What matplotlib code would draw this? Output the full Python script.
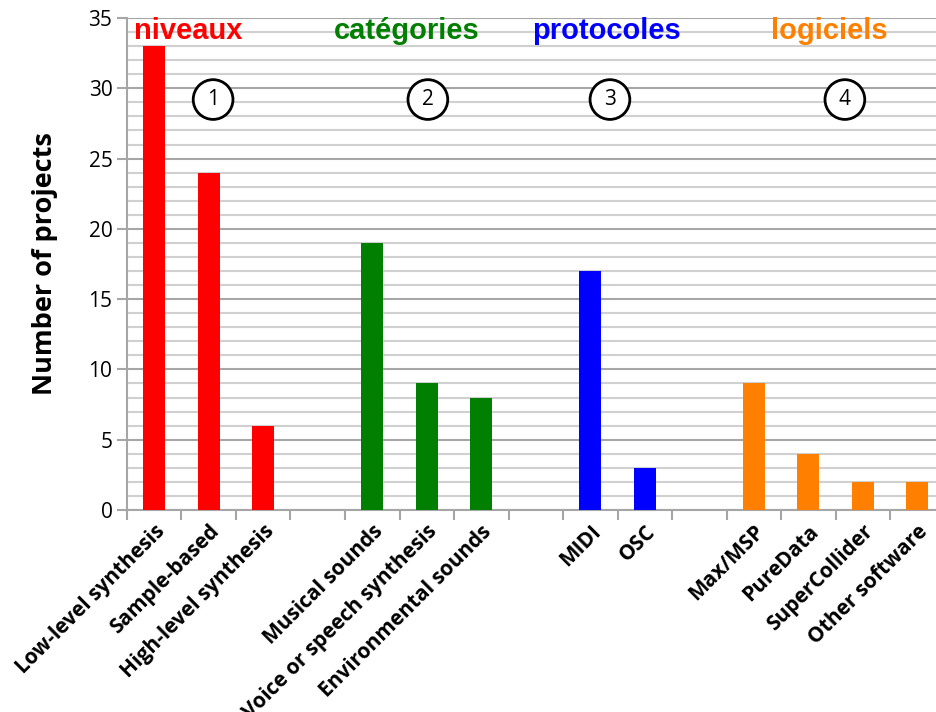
import matplotlib
matplotlib.use('Agg')
import matplotlib.pyplot as plt
import numpy as np

# data
niveaux = ['Low-level synthesis', 'Sample-based', 'High-level synthesis']
niveaux_vals = [33, 24, 6]
categories = ['Musical sounds', 'Voice or speech synthesis', 'Environmental sounds']
categories_vals = [19, 9, 8]
protocoles = ['MIDI', 'OSC']
protocoles_vals = [17, 3]
logiciels = ['Max/MSP', 'PureData', 'SuperCollider', 'Other software']
logiciels_vals = [9, 4, 2, 2]

group_titles = ['niveaux', 'catégories', 'protocoles', 'logiciels']
group_colors = ['#ff0000', '#007f00', '#0000ff', '#ff8000']
groups = [(niveaux, niveaux_vals), (categories, categories_vals),
          (protocoles, protocoles_vals), (logiciels, logiciels_vals)]

fig = plt.figure(figsize=(9.37, 7.12), dpi=100)
ax = fig.add_axes([0.1355, 0.2837, 0.8645, 0.691])

labels, positions = [], []
pos = 0
group_x = []
for (names, vals), col in zip(groups, group_colors):
    xs = np.arange(pos, pos + len(names))
    ax.bar(xs, vals, width=0.4, color=col, zorder=3)
    labels += names
    positions += list(xs)
    group_x.append(xs.mean())
    pos += len(names) + 1

# group titles and circled numbers
title_offsets = [-0.38, -0.36, -0.21, -0.12]
circle_offsets = [0.08, 0.02, -0.14, 0.17]
for i, (t, col) in enumerate(zip(group_titles, group_colors)):
    ax.text(group_x[i] + title_offsets[i], 34.1, t, color=col, fontsize=21,
            fontweight='bold', family='Liberation Sans', ha='center', va='center', zorder=4)
    ax.text(group_x[i] + circle_offsets[i], 29.2, str(i + 1),
            fontsize=15, family='Open Sans', ha='center', va='center', zorder=4,
            bbox=dict(boxstyle='circle,pad=0.45', fc='white', ec='black', lw=2))

ax.set_yticks(np.arange(0, 36, 5))
ax.set_yticks(np.arange(0, 36, 1), minor=True)
ax.grid(True, axis='y', which='major', color='#a6a6a6', lw=1.5, zorder=0)
ax.grid(True, axis='y', which='minor', color='#d0d0d0', lw=1.5, zorder=0)

ax.set_xticks(positions)
ax.set_xticklabels(labels, rotation=45, ha='right', rotation_mode='anchor',
                   fontsize=15, fontweight='bold', family='Open Sans')
ax.tick_params(axis='x', which='major', length=0, pad=8)
ax.set_xticks(np.arange(-0.5, 14, 1), minor=True)
ax.tick_params(axis='x', which='minor', length=7, color='#a6a6a6', width=1.5)
ax.tick_params(axis='y', which='major', length=7, color='#a6a6a6', width=1.5,
               labelsize=15)
ax.tick_params(axis='y', which='minor', length=0)
for lab in ax.get_yticklabels():
    lab.set_family('Open Sans')

# limits after ticks (set_xticks can widen the view)
ax.set_xlim(-0.5, 14.36)
ax.set_ylim(0, 35)

ax.set_ylabel('Number of projects', fontsize=19.5, fontweight='bold', family='Open Sans',
              labelpad=22)

for s in ['top', 'right']:
    ax.spines[s].set_visible(False)
for s in ['left', 'bottom']:
    ax.spines[s].set_color('#a6a6a6')
    ax.spines[s].set_linewidth(1.5)

plt.savefig('out.png', dpi=100)
